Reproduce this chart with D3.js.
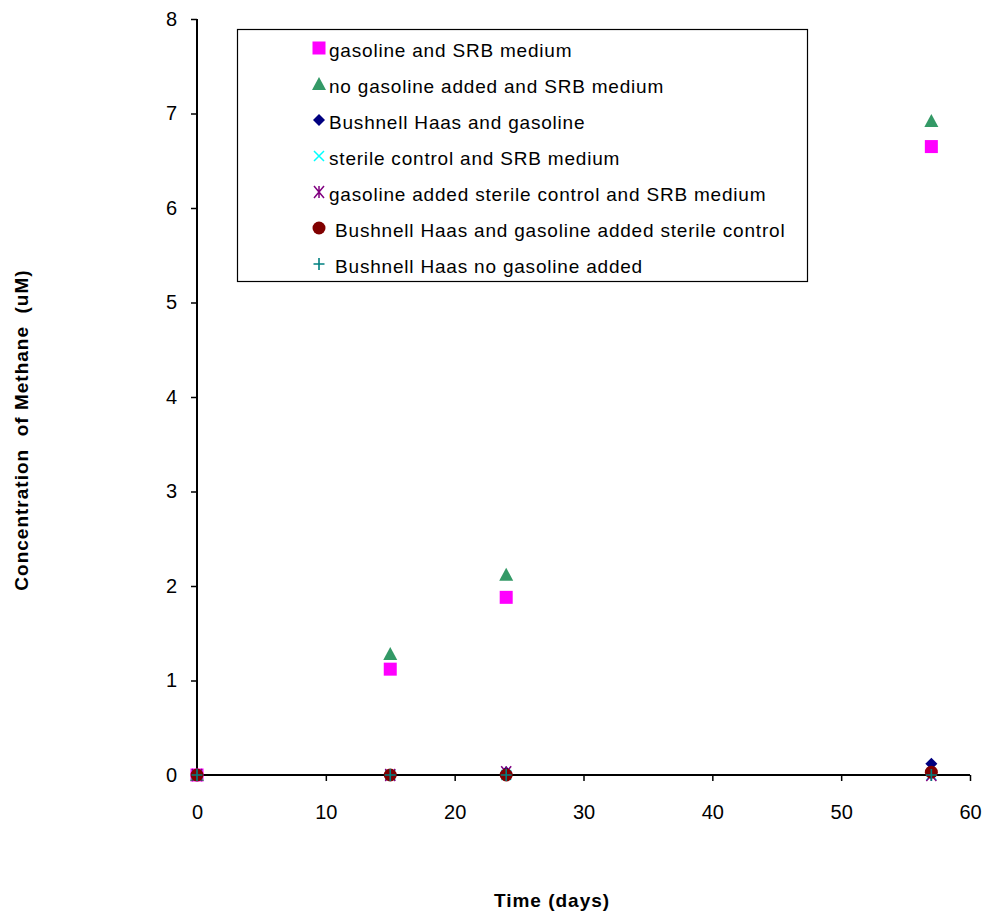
<!DOCTYPE html>
<html><head><meta charset="utf-8">
<script src="https://cdn.jsdelivr.net/npm/d3@7"></script>
<style>body{margin:0;background:#fff}svg{display:block;font-family:"Liberation Sans",Arial,sans-serif}</style>
</head><body><div id="chart"></div>
<script>
const days = [0, 15, 24, 57];
const seriesNames = [
  "gasoline and SRB medium",
  "no gasoline added and SRB medium",
  "Bushnell Haas and gasoline",
  "sterile control and SRB medium",
  "gasoline added sterile control and SRB medium",
  " Bushnell Haas and gasoline added sterile control",
  " Bushnell Haas no gasoline added"
];
const gasolineSRB = [0, 1.12, 1.88, 6.65];
const noGasolineSRB = [0, 1.28, 2.12, 6.92];
const bhGasoline = [0, 0, 0.03, 0.12];
const sterileSRB = [0, 0, 0, 0];
const gasSterileSRB = [0, 0, 0.03, 0.0];
const bhGasSterile = [0, 0, 0, 0.03];
const bhNoGasoline = [0, 0, 0, 0];
const seriesValues = [gasolineSRB, noGasolineSRB, bhGasoline, sterileSRB, gasSterileSRB, bhGasSterile, bhNoGasoline];
const colors = ["#ff00ff", "#339966", "#000080", "#00ffff", "#800080", "#800000", "#008080"];
const shapes = ["square", "triangle", "diamond", "x", "star", "circle", "plus"];
const xTicks = [0, 10, 20, 30, 40, 50, 60];
const yTicks = [0, 1, 2, 3, 4, 5, 6, 7, 8];

const W = 985, H = 915;
const FONT = '"Liberation Sans",Arial,sans-serif';
const svg = d3.select("#chart").append("svg").attr("width", W).attr("height", H);
const x = d3.scaleLinear().domain([0, 60]).range([197, 970]);
const y = d3.scaleLinear().domain([0, 8]).range([775, 19]);

// axes
const xAxis = svg.append("g").attr("transform", "translate(0,775)")
  .call(d3.axisBottom(x).tickValues(xTicks).tickSize(6).tickPadding(24));
const yAxis = svg.append("g").attr("transform", "translate(197,0)")
  .call(d3.axisLeft(y).tickValues(yTicks).tickSize(6).tickPadding(14));
[xAxis, yAxis].forEach(g => {
  g.selectAll("path.domain").attr("stroke", "#000").attr("stroke-width", 2);
  g.selectAll("line").attr("stroke", "#000").attr("stroke-width", 1.5);
  g.selectAll("text").attr("font-size", 20).attr("fill", "#000").attr("font-family", FONT);
});
xAxis.select("path.domain").attr("d", "M197,0H970");
yAxis.select("path.domain").attr("d", "M0,19V775");

function drawMarker(g, shape, color, cx, cy) {
  if (shape === "square") {
    g.append("rect").attr("x", cx - 6.5).attr("y", cy - 6.5).attr("width", 13).attr("height", 13).attr("fill", color);
  } else if (shape === "triangle") {
    g.append("path").attr("d", `M${cx},${cy-7}L${cx+7},${cy+6}L${cx-7},${cy+6}Z`).attr("fill", color);
  } else if (shape === "diamond") {
    g.append("path").attr("d", `M${cx},${cy-6}L${cx+6},${cy}L${cx},${cy+6}L${cx-6},${cy}Z`).attr("fill", color);
  } else if (shape === "circle") {
    g.append("circle").attr("cx", cx).attr("cy", cy).attr("r", 6.5).attr("fill", color);
  } else if (shape === "x") {
    g.append("path").attr("d", `M${cx-5},${cy-5}L${cx+5},${cy+5}M${cx+5},${cy-5}L${cx-5},${cy+5}`).attr("stroke", color).attr("stroke-width", 1.5);
  } else if (shape === "star") {
    g.append("path").attr("d", `M${cx-5},${cy-6}L${cx+5},${cy+6}M${cx+5},${cy-6}L${cx-5},${cy+6}M${cx},${cy-6}L${cx},${cy+6}`).attr("stroke", color).attr("stroke-width", 1.5);
  } else if (shape === "plus") {
    g.append("path").attr("d", `M${cx-5.5},${cy}L${cx+5.5},${cy}M${cx},${cy-6}L${cx},${cy+6}`).attr("stroke", color).attr("stroke-width", 1.6);
  }
}

// points
const pts = svg.append("g");
seriesValues.forEach((vals, i) => {
  vals.forEach((v, j) => drawMarker(pts, shapes[i], colors[i], x(days[j]), y(v)));
});

// legend
const lg = svg.append("g");
lg.append("rect").attr("x", 237.5).attr("y", 29.5).attr("width", 570).attr("height", 252)
  .attr("fill", "#fff").attr("stroke", "#000").attr("stroke-width", 1.2);
seriesNames.forEach((name, i) => {
  const cy = 48 + i * 36;
  drawMarker(lg, shapes[i], colors[i], 319, cy);
  lg.append("text").attr("x", 329).attr("y", cy + 8.5).attr("font-size", 19).attr("fill", "#000")
    .attr("letter-spacing", 0.8)
    .attr("xml:space", "preserve").style("white-space", "pre").text(name);
});

// axis titles
svg.append("text").attr("x", 552).attr("y", 907).attr("text-anchor", "middle")
  .attr("font-size", 19).attr("font-weight", "bold").attr("letter-spacing", 1).text("Time (days)");
svg.append("text").attr("transform", "translate(28,430) rotate(-90)").attr("text-anchor", "middle")
  .attr("font-size", 19).attr("font-weight", "bold").attr("letter-spacing", 1)
  .style("white-space", "pre").text("Concentration  of Methane  (uM)");
</script></body></html>
